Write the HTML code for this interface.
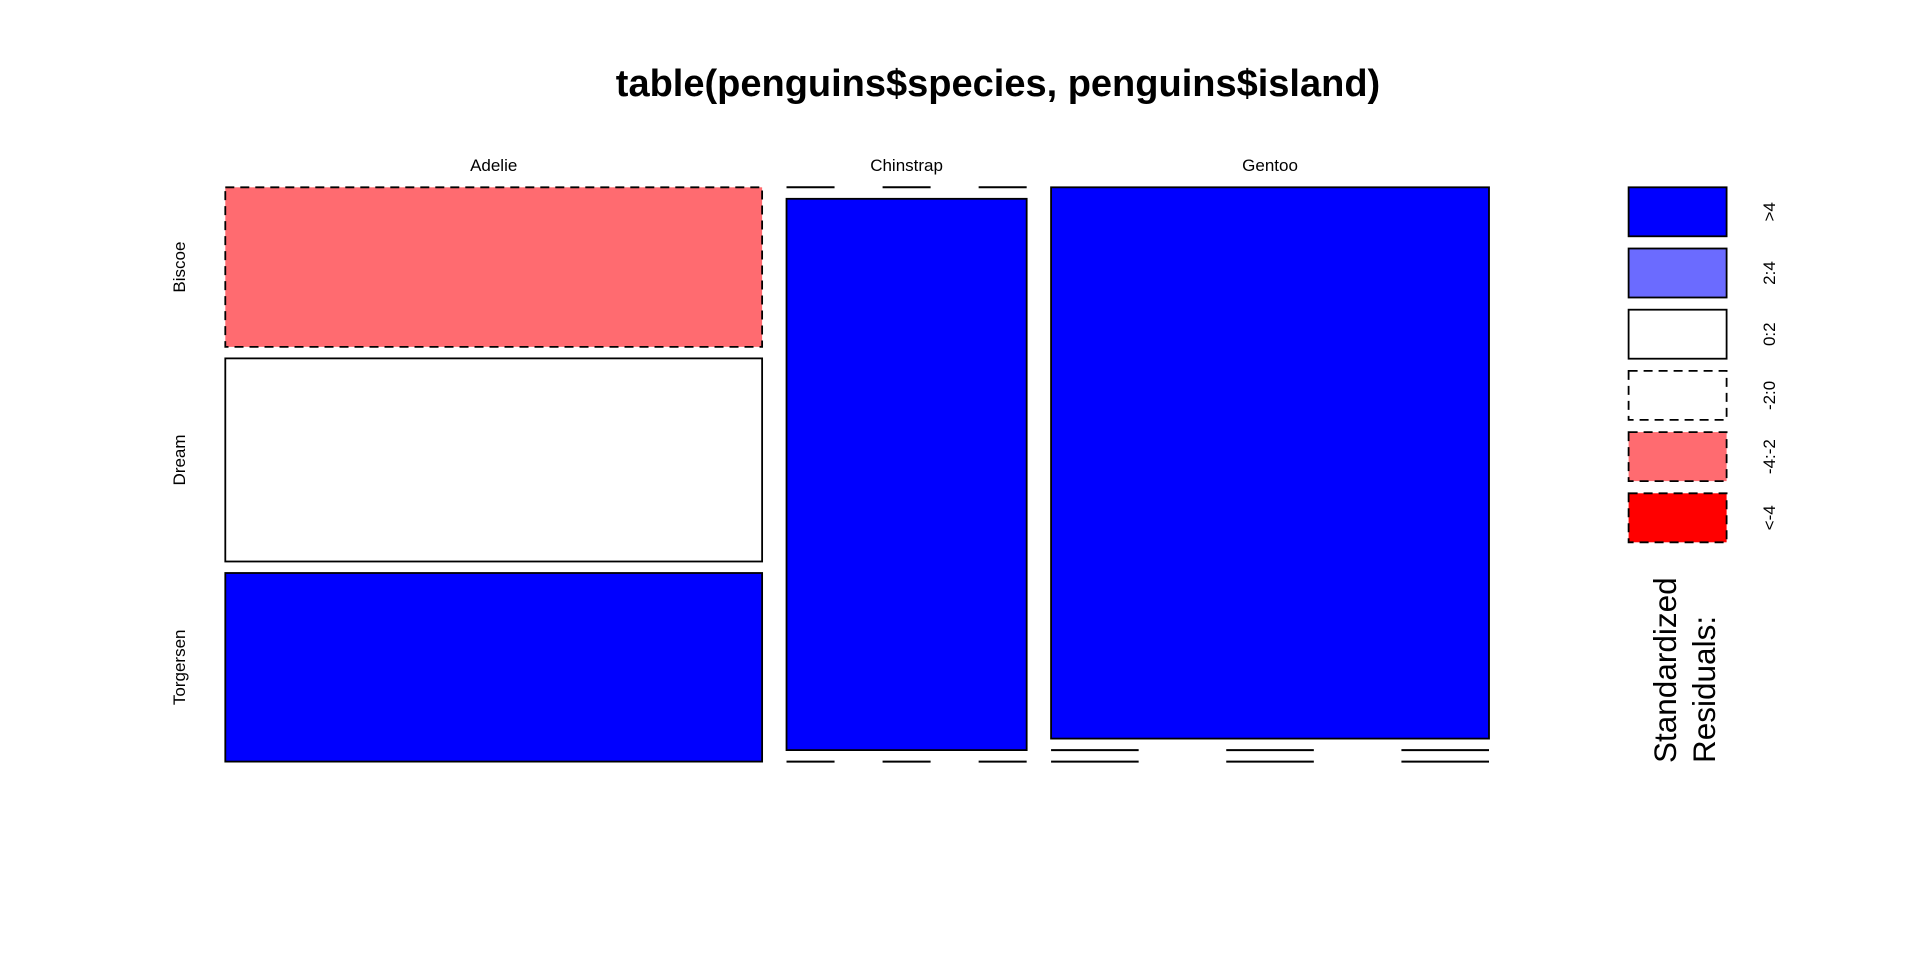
<!DOCTYPE html>
<html><head><meta charset="utf-8"><style>
html,body{margin:0;padding:0;background:#fff;}
svg{display:block;font-family:"Liberation Sans",Arial,sans-serif;}
</style></head><body>
<svg id="chart" width="1920" height="960" viewBox="0 0 1920 960">
<text x="998" y="96" font-size="38" font-weight="bold" text-anchor="middle">table(penguins$species, penguins$island)</text>
<g id="plot"></g>
<g id="legend"></g>
</svg>
<script>
const species = ["Adelie", "Chinstrap", "Gentoo"];
const islands = ["Biscoe", "Dream", "Torgersen"];
const adelieCounts = [44, 56, 52];
const chinstrapCounts = [0, 68, 0];
const gentooCounts = [124, 0, 0];
const legendLabels = [">4", "2:4", "0:2", "-2:0", "-4:-2", "<-4"];

const NS = "http://www.w3.org/2000/svg";
const counts = [adelieCounts, chinstrapCounts, gentooCounts];
const plot = document.getElementById("plot");
const legend = document.getElementById("legend");
function mk(tag, attrs, parent) {
  const e = document.createElementNS(NS, tag);
  for (const k in attrs) e.setAttribute(k, attrs[k]);
  parent.appendChild(e);
  return e;
}
const X0 = 225.3, X1 = 1489, Y0 = 187.3, Y1 = 761.6, XGAP = 24.4, YGAP = 11.5;
const colTot = counts.map(c => c.reduce((a, b) => a + b, 0));
const rowTot = islands.map((_, j) => counts.reduce((a, c) => a + c[j], 0));
const N = colTot.reduce((a, b) => a + b, 0);
const xScale = v => v / N * (X1 - X0 - XGAP * (species.length - 1));
function fillFor(r) {
  if (r > 4) return "#0000ff";
  if (r > 2) return "#6b6bff";
  if (r > -2) return "#ffffff";
  if (r > -4) return "#ff6b70";
  return "#ff0000";
}
let x = X0;
species.forEach((sp, i) => {
  const w = xScale(colTot[i]);
  const avail = (Y1 - Y0) - YGAP * (islands.length - 1);
  const t = mk("text", {x: x + w / 2, y: 171, "font-size": 17, "text-anchor": "middle"}, plot);
  
  
  t.textContent = sp;
  let y = Y0;
  islands.forEach((isl, j) => {
    const v = counts[i][j];
    const h = v / colTot[i] * avail;
    const exp = colTot[i] * rowTot[j] / N;
    const r = (v - exp) / Math.sqrt(exp);
    if (v === 0) {
      const ln = mk("line", {x1: x, x2: x + w, y1: y, y2: y, stroke: "#000", "stroke-width": 2, "stroke-dasharray": (w / 5) + " " + (w / 5)}, plot);
      
      
    } else {
      const rc = mk("rect", {x: x, y: y, width: w, height: h, fill: fillFor(r), stroke: "#000", "stroke-width": 1.8}, plot);
      if (r < 0) rc.setAttribute("stroke-dasharray", "9 6");
      
      
    }
    if (i === 0) {
      const cy = y + h / 2;
      const lt = mk("text", {x: 185, y: cy, "font-size": 17, "text-anchor": "middle", transform: "rotate(-90 185 " + cy + ")"}, plot);
      
      
      lt.textContent = isl;
    }
    y += h + YGAP;
  });
  x += w + XGAP;
});
const legFills = ["#0000ff", "#6b6bff", "#ffffff", "#ffffff", "#ff6b70", "#ff0000"];
legendLabels.forEach((lab, k) => {
  const by = 187.3 + k * 61.2;
  const rc = mk("rect", {x: 1628.6, y: by, width: 98, height: 49, fill: legFills[k], stroke: "#000", "stroke-width": 1.8}, legend);
  if (k >= 3) rc.setAttribute("stroke-dasharray", "9 6");
  
  
  const cy = by + 24.5;
  const t = mk("text", {x: 1775, y: cy, "font-size": 17, "text-anchor": "middle", transform: "rotate(-90 1775 " + cy + ")"}, legend);
  
  
  t.textContent = lab;
});
["Standardized", "Residuals:"].forEach((s, k) => {
  const tx = 1676 + k * 39;
  const t = mk("text", {x: tx, y: 763, "font-size": 31.5, transform: "rotate(-90 " + tx + " 763)"}, legend);
  
  
  t.textContent = s;
});
</script>
</body></html>
